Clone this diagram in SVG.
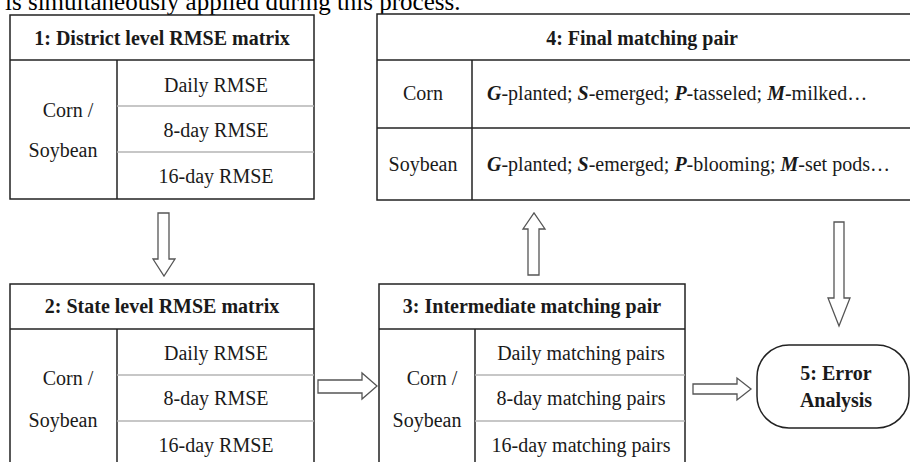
<svg xmlns="http://www.w3.org/2000/svg" width="910" height="462" viewBox="0 0 910 462">
<style>
.box{fill:#fff;stroke:#222;stroke-width:1.5}
.ln{stroke:#222;stroke-width:1.5}
.gl{stroke:#b4b4b4;stroke-width:1.5}
.arr{fill:#fff;stroke:#555;stroke-width:1.3;stroke-linejoin:miter}
text{font-family:"Liberation Serif","Times New Roman",serif;fill:#1a1a1a;font-size:20px}
.h{font-weight:bold;text-anchor:middle}
.c{text-anchor:middle}
.bi{font-weight:bold;font-style:italic}
.top{font-size:25px;fill:#000}
</style>
<rect width="910" height="462" fill="#fff"/>
<text class="top" x="5" y="10">is simultaneously applied during this process.</text>

<g id="node1">
<rect class="box" x="10" y="15" width="304" height="184"/>
<line class="ln" x1="10" y1="60" x2="314" y2="60"/>
<line class="ln" x1="117" y1="60" x2="117" y2="199"/>
<line class="gl" x1="117" y1="106" x2="314" y2="106"/>
<line class="gl" x1="117" y1="152" x2="314" y2="152"/>
<text class="h" x="162" y="45">1: District level RMSE matrix</text>
<text class="c" x="68" y="117">Corn /</text>
<text class="c" x="63" y="157">Soybean</text>
<text class="c" x="216" y="92">Daily RMSE</text>
<text class="c" x="216" y="137">8-day RMSE</text>
<text class="c" x="216" y="183">16-day RMSE</text>
</g>

<g id="node2">
<rect class="box" x="10" y="284" width="304" height="190"/>
<line class="ln" x1="10" y1="329" x2="314" y2="329"/>
<line class="ln" x1="117" y1="329" x2="117" y2="462"/>
<line class="gl" x1="117" y1="375" x2="314" y2="375"/>
<line class="gl" x1="117" y1="421" x2="314" y2="421"/>
<text class="h" x="162" y="313">2: State level RMSE matrix</text>
<text class="c" x="68" y="385">Corn /</text>
<text class="c" x="63" y="427">Soybean</text>
<text class="c" x="216" y="360">Daily RMSE</text>
<text class="c" x="216" y="405">8-day RMSE</text>
<text class="c" x="216" y="452">16-day RMSE</text>
</g>

<g id="node3">
<rect class="box" x="379" y="284" width="306" height="190"/>
<line class="ln" x1="379" y1="329" x2="685" y2="329"/>
<line class="ln" x1="475" y1="329" x2="475" y2="462"/>
<line class="gl" x1="475" y1="375" x2="685" y2="375"/>
<line class="gl" x1="475" y1="421" x2="685" y2="421"/>
<text class="h" x="532" y="313">3: Intermediate matching pair</text>
<text class="c" x="432" y="385">Corn /</text>
<text class="c" x="427" y="427">Soybean</text>
<text class="c" x="581" y="360">Daily matching pairs</text>
<text class="c" x="581" y="405">8-day matching pairs</text>
<text class="c" x="581" y="452">16-day matching pairs</text>
</g>

<g id="node4">
<rect class="box" x="377" y="14" width="545" height="186"/>
<line class="ln" x1="377" y1="60" x2="922" y2="60"/>
<line class="ln" x1="377" y1="128" x2="922" y2="128"/>
<line class="ln" x1="472" y1="60" x2="472" y2="200"/>
<text class="h" x="642" y="45">4: Final matching pair</text>
<text class="c" x="423" y="100">Corn</text>
<text class="c" x="423" y="171">Soybean</text>
<text x="487" y="100"><tspan class="bi">G</tspan>-planted; <tspan class="bi">S</tspan>-emerged; <tspan class="bi">P</tspan>-tasseled; <tspan class="bi">M</tspan>-milked…</text>
<text x="487" y="171"><tspan class="bi">G</tspan>-planted; <tspan class="bi">S</tspan>-emerged; <tspan class="bi">P</tspan>-blooming; <tspan class="bi">M</tspan>-set pods…</text>
</g>

<g id="node5">
<rect class="box" x="757" y="345" width="152" height="83" rx="32" ry="32"/>
<text class="h" x="836" y="380">5: Error</text>
<text class="h" x="836" y="407">Analysis</text>
</g>

<g id="connectors">
<polygon class="arr" points="158,213 169,213 169,259 175,259 164,276 153,259 158,259"/>
<polygon class="arr" points="318,380 362,380 362,373 377,386 362,399 362,393 318,393"/>
<polygon class="arr" points="528,275 528,229 523,229 534,213 545,229 539,229 539,275"/>
<polygon class="arr" points="693,384 737,384 737,378 751,389 737,400 737,394 693,394"/>
<polygon class="arr" points="834,222 844,222 844,298 850,298 839,326 828,298 834,298"/>
</g>
</svg>
